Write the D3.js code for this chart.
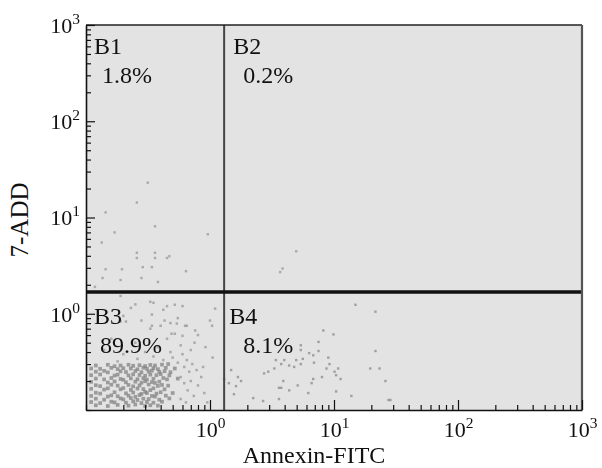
<!DOCTYPE html>
<html>
<head>
<meta charset="utf-8">
<script src="https://cdn.jsdelivr.net/npm/d3@7"></script>
<style>
  body { margin: 0; background: #fff; }
  svg, svg text, svg tspan { font-family: "Liberation Serif", "Times New Roman", serif; fill: #111; }
</style>
</head>
<body>
<div id="chart"></div>
<script>
var svgWidth = 602;
var svgHeight = 468;
var serif = "'Liberation Serif', 'Times New Roman', serif";

var margin = { top: 25, right: 20, bottom: 58, left: 86 };
var width = svgWidth - margin.left - margin.right;
var height = svgHeight - margin.top - margin.bottom;

// axis range and quadrant gates
var axisDomain = [0.1, 1000];
var majorTicks = [1, 10, 100, 1000];
var xGate = 1.3;
var yGate = 1.68;

var quadrantNames = ["B1", "B2", "B3", "B4"];
var quadrantPercents = ["1.8%", "0.2%", "89.9%", "8.1%"];

// events, [Annexin-FITC, 7-ADD]
var b1Events = [
  [0.315, 23], [0.257, 14.3], [0.144, 11.3], [0.17, 7.0], [0.36, 8.1], [0.96, 6.7],
  [0.134, 5.5], [0.257, 4.3], [0.36, 4.3], [0.257, 3.8], [0.36, 3.8], [0.45, 3.8],
  [0.47, 3.96], [0.287, 3.05], [0.34, 3.05], [0.144, 2.9], [0.195, 2.9], [0.64, 2.77],
  [0.136, 2.35], [0.19, 2.24], [0.28, 2.35], [0.38, 2.14], [0.118, 1.9]
];

var b2Events = [
  [4.96, 4.46], [3.68, 2.71], [3.85, 2.95]
];

// main live-cell cluster, read row by row
var b3Core = [
  [0.12, 0.29], [0.15, 0.295], [0.17, 0.285], [0.19, 0.29], [0.22, 0.295], [0.24, 0.288], [0.27, 0.292], [0.3, 0.286], [0.33, 0.294], [0.36, 0.29], [0.41, 0.296], [0.46, 0.3],
  [0.11, 0.27], [0.13, 0.268], [0.16, 0.274], [0.18, 0.266], [0.2, 0.272], [0.23, 0.27], [0.26, 0.265], [0.29, 0.275], [0.31, 0.268], [0.35, 0.272], [0.38, 0.266], [0.44, 0.274], [0.52, 0.27],
  [0.12, 0.25], [0.14, 0.255], [0.15, 0.246], [0.19, 0.252], [0.21, 0.248], [0.25, 0.254], [0.28, 0.247], [0.32, 0.251], [0.34, 0.256], [0.39, 0.249], [0.43, 0.253], [0.48, 0.247],
  [0.11, 0.23], [0.13, 0.234], [0.17, 0.228], [0.18, 0.233], [0.22, 0.229], [0.24, 0.235], [0.27, 0.231], [0.3, 0.227], [0.33, 0.233], [0.37, 0.23], [0.4, 0.236], [0.47, 0.229],
  [0.12, 0.212], [0.14, 0.208], [0.16, 0.215], [0.19, 0.21], [0.2, 0.206], [0.23, 0.213], [0.26, 0.209], [0.29, 0.214], [0.31, 0.207], [0.35, 0.211], [0.42, 0.215], [0.45, 0.208], [0.55, 0.212],
  [0.11, 0.196], [0.15, 0.193], [0.17, 0.198], [0.21, 0.194], [0.25, 0.197], [0.28, 0.192], [0.3, 0.199], [0.34, 0.195], [0.36, 0.191], [0.39, 0.197],
  [0.12, 0.181], [0.13, 0.177], [0.16, 0.183], [0.18, 0.179], [0.22, 0.182], [0.24, 0.176], [0.27, 0.18], [0.32, 0.184], [0.38, 0.178], [0.41, 0.182], [0.46, 0.179],
  [0.11, 0.166], [0.14, 0.163], [0.15, 0.168], [0.19, 0.164], [0.2, 0.169], [0.23, 0.162], [0.26, 0.167], [0.29, 0.165], [0.33, 0.161], [0.35, 0.168], [0.43, 0.164],
  [0.12, 0.151], [0.13, 0.148], [0.17, 0.153], [0.21, 0.149], [0.24, 0.152], [0.28, 0.147], [0.3, 0.154], [0.31, 0.15], [0.37, 0.148], [0.4, 0.153], [0.5, 0.15],
  [0.11, 0.14], [0.15, 0.138], [0.16, 0.142], [0.18, 0.139], [0.22, 0.141], [0.25, 0.137], [0.27, 0.143], [0.34, 0.14], [0.36, 0.138], [0.44, 0.141],
  [0.12, 0.131], [0.14, 0.128], [0.19, 0.132], [0.2, 0.129], [0.23, 0.133], [0.26, 0.127], [0.29, 0.131], [0.32, 0.13], [0.39, 0.128], [0.47, 0.132],
  [0.11, 0.121], [0.13, 0.118], [0.16, 0.122], [0.17, 0.12], [0.21, 0.119], [0.24, 0.123], [0.28, 0.118], [0.31, 0.121], [0.35, 0.119], [0.41, 0.122],
  [0.12, 0.112], [0.15, 0.11], [0.18, 0.113], [0.22, 0.111], [0.25, 0.114], [0.3, 0.11], [0.33, 0.112], [0.38, 0.111]
];

// looser halo round the main cluster
var b3Halo = [
  [0.42, 0.33], [0.5, 0.35], [0.55, 0.31], [0.6, 0.38], [0.48, 0.4], [0.65, 0.33], [0.7, 0.42], [0.38, 0.45], [0.58, 0.47], [0.45, 0.55],
  [0.75, 0.5], [0.52, 0.62], [0.33, 0.7], [0.62, 0.28], [0.68, 0.25], [0.72, 0.3], [0.58, 0.22], [0.62, 0.19], [0.7, 0.2], [0.78, 0.26],
  [0.85, 0.22], [0.66, 0.16], [0.74, 0.14], [0.8, 0.18], [0.9, 0.15], [0.58, 0.13], [0.64, 0.12], [0.88, 0.28], [0.95, 0.12], [1.05, 0.35],
  [0.92, 0.45], [0.8, 0.6], [1.0, 0.85], [0.28, 0.85], [0.2, 0.95], [0.42, 1.1], [0.55, 0.9], [0.65, 0.75], [0.16, 0.55], [0.25, 0.5],
  [0.3, 0.4], [0.2, 0.38], [0.14, 0.42], [0.35, 0.36], [0.26, 0.34], [0.18, 0.32], [0.4, 0.75], [0.48, 0.8], [0.35, 1.3], [0.25, 1.25],
  [0.6, 1.2], [0.19, 1.53], [0.33, 1.33], [0.45, 1.2], [0.52, 1.24], [0.34, 0.98], [0.19, 0.83], [0.21, 0.83], [0.43, 0.85], [0.54, 0.79],
  [0.63, 0.75], [0.34, 0.75], [0.76, 0.67], [1.04, 0.75], [0.49, 0.62], [0.6, 0.59], [1.1, 1.13], [0.23, 1.15]
];

var b4Events = [
  [14.9, 1.24], [21.6, 1.05], [8.2, 0.67], [9.9, 0.61], [5.4, 0.47], [7.5, 0.41], [6.8, 0.37], [5.6, 0.34],
  [4.96, 0.33], [3.97, 0.33], [3.4, 0.33], [3.75, 0.3], [4.77, 0.28], [6.9, 0.31], [9.0, 0.35], [9.2, 0.3],
  [8.7, 0.27], [10.1, 0.25], [10.8, 0.27], [11.3, 0.21], [10.4, 0.23], [8.0, 0.22], [6.8, 0.21], [3.3, 0.27],
  [2.95, 0.25], [2.73, 0.24], [3.9, 0.2], [3.6, 0.17], [4.35, 0.16], [6.2, 0.15], [10.4, 0.156], [6.6, 0.19],
  [5.1, 0.18], [13.8, 0.14], [21.6, 0.41], [19.6, 0.27], [23.3, 0.27], [26.0, 0.2], [27.5, 0.127], [1.48, 0.26],
  [1.68, 0.22], [1.42, 0.19], [1.62, 0.177], [1.78, 0.2], [1.3, 0.21], [1.56, 0.146], [2.23, 0.133], [2.68, 0.124],
  [3.6, 0.13], [4.35, 0.29], [5.4, 0.3], [6.3, 0.39], [7.5, 0.51], [5.4, 0.42], [3.75, 0.17], [28.5, 0.127]
];

var svg = d3.select("#chart")
  .append("svg")
  .attr("width", svgWidth)
  .attr("height", svgHeight)
  .attr("font-family", serif);

// soft edge for the events, like a scanned dot plot
svg.append("defs").append("filter")
  .attr("id", "soft")
  .append("feGaussianBlur")
  .attr("stdDeviation", 0.5);

var chartGroup = svg.append("g")
  .attr("transform", `translate(${margin.left}, ${margin.top})`);

var xScale = d3.scaleLog().domain(axisDomain).range([0, width]);
var yScale = d3.scaleLog().domain(axisDomain).range([height, 0]);

// plot background
chartGroup.append("rect")
  .attr("width", width)
  .attr("height", height)
  .attr("fill", "#e3e3e3");

// events
var eventLayer = chartGroup.append("g").attr("filter", "url(#soft)");
function drawEvents(data, size, color, opacity) {
  eventLayer.append("g")
    .selectAll("rect")
    .data(data)
    .enter()
    .append("rect")
    .attr("x", d => xScale(d[0]) - size / 2)
    .attr("y", d => yScale(d[1]) - size / 2)
    .attr("width", size)
    .attr("height", size)
    .attr("fill", color)
    .attr("opacity", opacity);
}
drawEvents(b1Events, 2.4, "#8c8c8c", 0.65);
drawEvents(b2Events, 2.4, "#8c8c8c", 0.65);
drawEvents(b4Events, 2.4, "#838383", 0.7);
drawEvents(b3Halo, 2.5, "#858585", 0.6);
drawEvents(b3Core, 3.7, "#808080", 0.72);

// quadrant gates
chartGroup.append("line")
  .attr("x1", xScale(xGate)).attr("x2", xScale(xGate))
  .attr("y1", 0).attr("y2", height)
  .attr("stroke", "#444").attr("stroke-width", 2);

chartGroup.append("line")
  .attr("x1", 0).attr("x2", width)
  .attr("y1", yScale(yGate)).attr("y2", yScale(yGate))
  .attr("stroke", "#111").attr("stroke-width", 3.5);

// frame: top and right
chartGroup.append("line")
  .attr("x1", 0).attr("x2", width).attr("y1", 0).attr("y2", 0)
  .attr("stroke", "#222").attr("stroke-width", 1.5);
chartGroup.append("line")
  .attr("x1", width).attr("x2", width).attr("y1", 0).attr("y2", height)
  .attr("stroke", "#555").attr("stroke-width", 2.2);

// axes, ticks pointing inward
var isMajor = d => majorTicks.indexOf(d) >= 0;

function powerLabel(sel) {
  sel.each(function(d) {
    var t = d3.select(this);
    t.text(null);
    if (!isMajor(d)) return;
    t.append("tspan").text("10");
    t.append("tspan")
      .attr("dy", -9)
      .attr("font-size", 15.5)
      .text(Math.round(Math.log10(d)));
  });
}

var bottomAxis = d3.axisBottom(xScale)
  .tickValues(xScale.ticks())
  .tickSizeInner(-5)
  .tickSizeOuter(0)
  .tickFormat("");

var xAxisG = chartGroup.append("g")
  .attr("transform", `translate(0, ${height})`)
  .call(bottomAxis)
  .attr("font-family", serif);
xAxisG.selectAll(".tick line")
  .attr("y2", d => isMajor(d) ? -10 : -5);
xAxisG.selectAll(".tick text")
  .attr("y", 27).attr("dy", 0)
  .attr("font-size", 22)
  .call(powerLabel);

var leftAxis = d3.axisLeft(yScale)
  .tickValues(yScale.ticks())
  .tickSizeInner(-5)
  .tickSizeOuter(0)
  .tickPadding(6)
  .tickFormat("");

var yAxisG = chartGroup.append("g")
  .call(leftAxis)
  .attr("font-family", serif);
yAxisG.selectAll(".tick line")
  .attr("x2", d => isMajor(d) ? 9 : 5);
yAxisG.selectAll(".tick text")
  .attr("dy", "0.34em")
  .attr("font-size", 22)
  .call(powerLabel);

chartGroup.selectAll(".domain").attr("stroke", "#111").attr("stroke-width", 1.6);
chartGroup.selectAll(".tick line").attr("stroke", "#111").attr("stroke-width", 1.2);
chartGroup.selectAll(".tick text").attr("fill", "#111");

// quadrant labels
var gx = xScale(xGate);
var gy = yScale(yGate);
var labelSpots = [
  [8, 29, 16, 58],
  [gx + 9, 29, gx + 19, 58],
  [8, gy + 32, 14, gy + 61],
  [gx + 5, gy + 32, gx + 19, gy + 61]
];
quadrantNames.forEach(function(name, i) {
  var p = labelSpots[i];
  chartGroup.append("text")
    .attr("x", p[0]).attr("y", p[1])
    .attr("font-family", serif)
    .attr("font-size", 24)
    .text(name);
  chartGroup.append("text")
    .attr("x", p[2]).attr("y", p[3])
    .attr("font-family", serif)
    .attr("font-size", 24)
    .text(quadrantPercents[i]);
});

// axis titles
svg.append("text")
  .attr("transform", "translate(28, 220) rotate(-90)")
  .attr("text-anchor", "middle")
  .attr("font-family", serif)
  .attr("font-size", 25)
  .text("7-ADD");

svg.append("text")
  .attr("x", 314)
  .attr("y", 463)
  .attr("text-anchor", "middle")
  .attr("font-family", serif)
  .attr("font-size", 24)
  .text("Annexin-FITC");
</script>
</body>
</html>
